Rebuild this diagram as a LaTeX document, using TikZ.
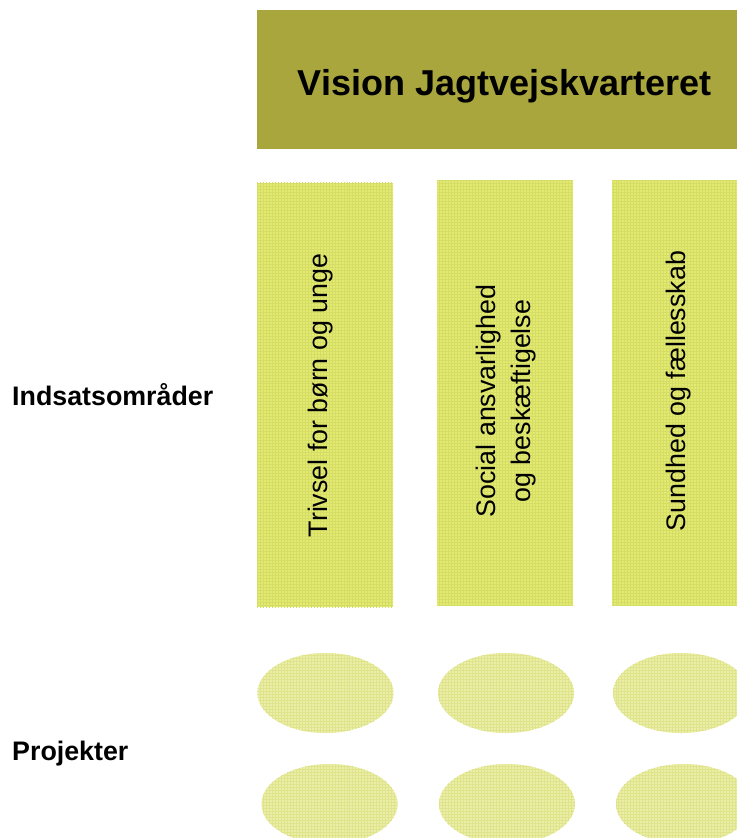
\documentclass[tikz,border=0pt]{standalone}
\usepackage{fontspec}
\setmainfont{Liberation Sans}
\usetikzlibrary{patterns,shapes.geometric}
\definecolor{titlefill}{HTML}{A9A63E}
\definecolor{colfill}{HTML}{E3EA70}
\definecolor{colgrid}{HTML}{D6DD66}
\definecolor{ellfill}{HTML}{EBEEA6}
\definecolor{ellgrid}{HTML}{DEE38C}
\begin{document}
\begin{tikzpicture}[x=1bp,y=-1bp,
  titlebox/.style={rectangle, fill=titlefill, inner sep=0pt, minimum width=491bp, minimum height=139bp},
  colbox/.style={rectangle, fill=colfill, postaction={pattern=grid, pattern color=colgrid}, inner sep=0pt, minimum width=136bp, minimum height=424bp},
  projell/.style={ellipse, fill=ellfill, postaction={pattern=grid, pattern color=ellgrid}, inner sep=0pt, minimum width=136bp, minimum height=80bp},
  titletext/.style={font=\fontsize{36bp}{42bp}\selectfont\bfseries, inner sep=0pt},
  coltext/.style={rotate=90, font=\fontsize{26.8bp}{35bp}\selectfont, align=center, inner sep=0pt},
  sidetext/.style={font=\fontsize{26.8bp}{32bp}\selectfont\bfseries, inner sep=0pt, anchor=base west}
]
\clip (0,0) rectangle (737,838);
\fill[white] (0,0) rectangle (737,838);
% title
\node[titlebox] (vision) at (502.5,79.5) {};
\node[titletext, anchor=base] (visiontxt) at (504.5,95) {Vision Jagtvejskvarteret};
% columns
\node[colbox] (col1) at (325,395) {};
\node[colbox] (col2) at (505,393) {};
\node[colbox] (col3) at (680,393) {};
\node[coltext] (col1txt) at (321,395.5) {Trivsel for børn og unge};
\node[coltext] (col2txt) at (506,401) {Social ansvarlighed\\og beskæftigelse};
\node[coltext] (col3txt) at (679,391) {Sundhed og fællesskab};
% projects
\node[projell] (p11) at (325.5,693) {};
\node[projell] (p12) at (506,693) {};
\node[projell] (p13) at (681,693) {};
\node[projell] (p21) at (329.5,804) {};
\node[projell] (p22) at (507,804) {};
\node[projell] (p23) at (684,804) {};
% side labels
\node[sidetext] (indsats) at (12,405) {Indsatsområder};
\node[sidetext] (projekter) at (12,760) {Projekter};
\end{tikzpicture}
\end{document}
